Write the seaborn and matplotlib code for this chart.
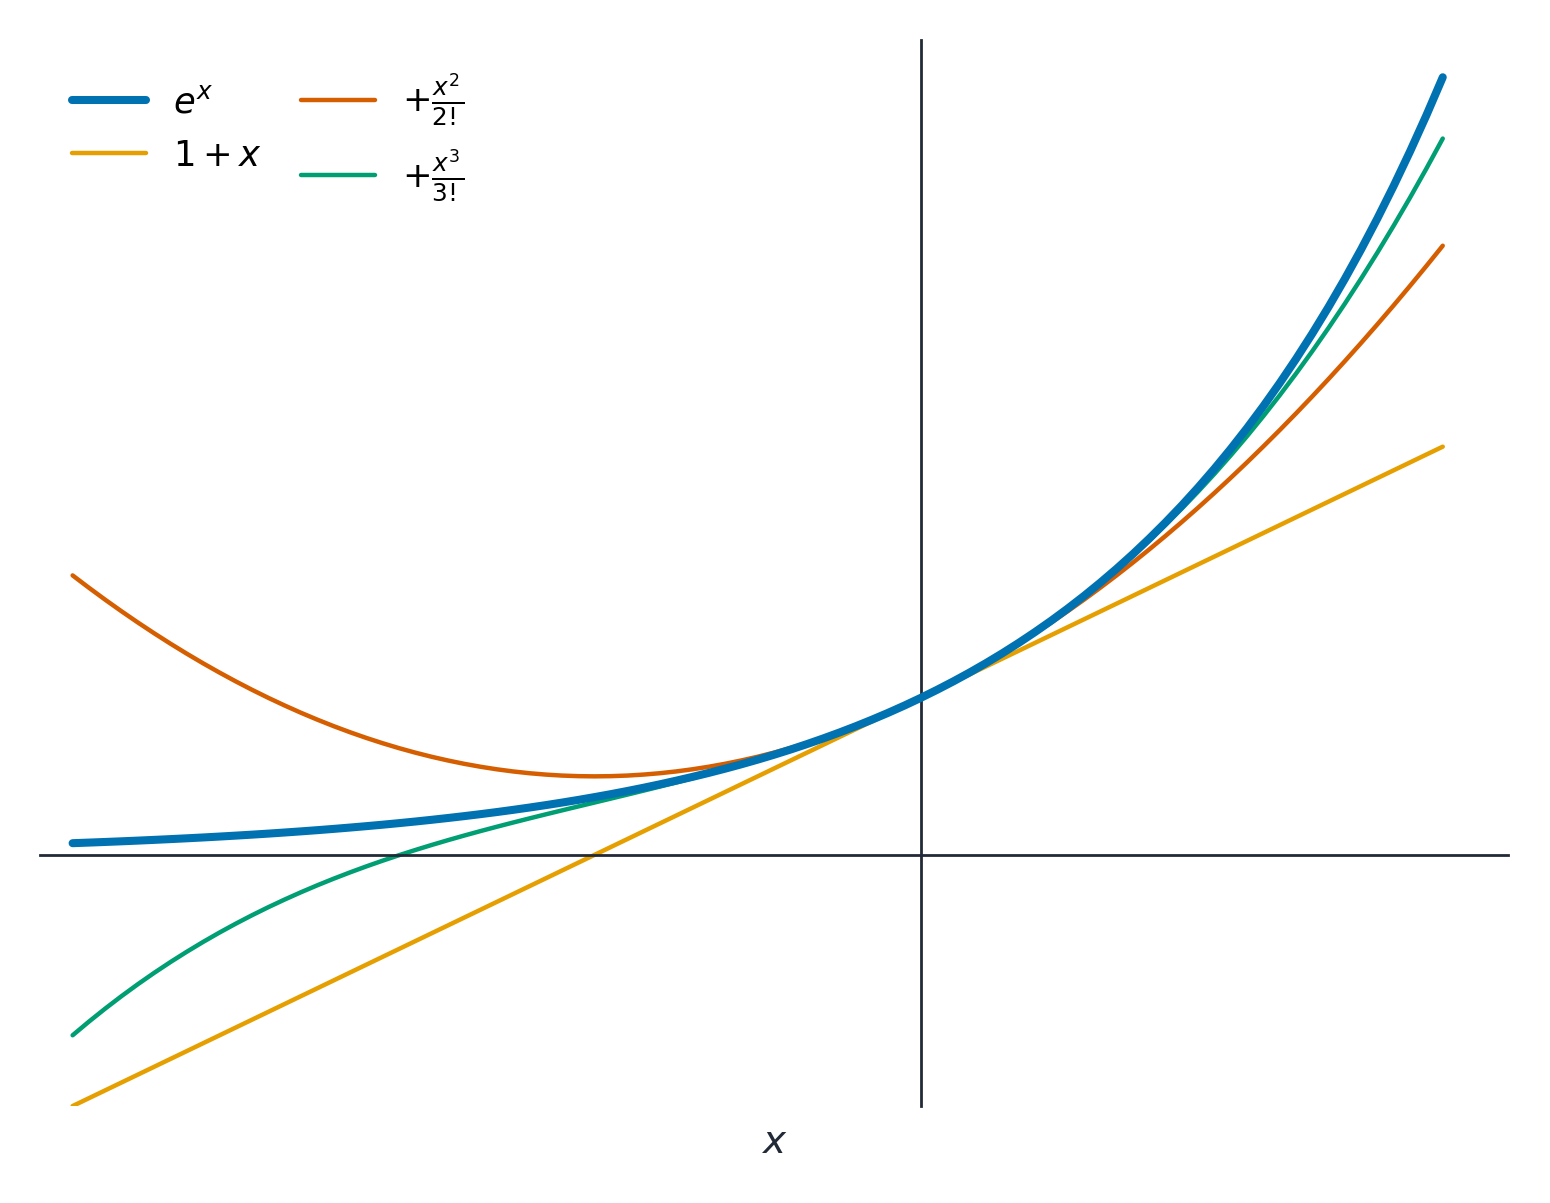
import seaborn as sns
import matplotlib.pyplot as plt

# x grid (step 0.05) and the curve values
x = [-2.6, -2.55, -2.5, -2.45, -2.4, -2.35, -2.3, -2.25, -2.2, -2.15,
     -2.1, -2.05, -2.0, -1.95, -1.9, -1.85, -1.8, -1.75, -1.7, -1.65,
     -1.6, -1.55, -1.5, -1.45, -1.4, -1.35, -1.3, -1.25, -1.2, -1.15,
     -1.1, -1.05, -1.0, -0.95, -0.9, -0.85, -0.8, -0.75, -0.7, -0.65,
     -0.6, -0.55, -0.5, -0.45, -0.4, -0.35, -0.3, -0.25, -0.2, -0.15,
     -0.1, -0.05, 0.0, 0.05, 0.1, 0.15, 0.2, 0.25, 0.3, 0.35,
     0.4, 0.45, 0.5, 0.55, 0.6, 0.65, 0.7, 0.75, 0.8, 0.85,
     0.9, 0.95, 1.0, 1.05, 1.1, 1.15, 1.2, 1.25, 1.3, 1.35,
     1.4, 1.45, 1.5, 1.55, 1.6]

exp_x = [0.0743, 0.0781, 0.0821, 0.0863, 0.0907, 0.0954, 0.1003, 0.1054,
         0.1108, 0.1165, 0.1225, 0.1287, 0.1353, 0.1423, 0.1496, 0.1572,
         0.1653, 0.1738, 0.1827, 0.1920, 0.2019, 0.2122, 0.2231, 0.2346,
         0.2466, 0.2592, 0.2725, 0.2865, 0.3012, 0.3166, 0.3329, 0.3499,
         0.3679, 0.3867, 0.4066, 0.4274, 0.4493, 0.4724, 0.4966, 0.5220,
         0.5488, 0.5769, 0.6065, 0.6376, 0.6703, 0.7047, 0.7408, 0.7788,
         0.8187, 0.8607, 0.9048, 0.9512, 1.0, 1.0513, 1.1052, 1.1618,
         1.2214, 1.2840, 1.3499, 1.4191, 1.4918, 1.5683, 1.6487, 1.7333,
         1.8221, 1.9155, 2.0138, 2.1170, 2.2255, 2.3396, 2.4596, 2.5857,
         2.7183, 2.8577, 3.0042, 3.1582, 3.3201, 3.4903, 3.6693, 3.8574,
         4.0552, 4.2631, 4.4817, 4.7115, 4.9530]

order1_x = [-2.6, 1.6]
order1 = [-1.6, 2.6]

order2 = [1.78, 1.7013, 1.625, 1.5513, 1.48, 1.4113, 1.345, 1.2813,
          1.22, 1.1613, 1.105, 1.0513, 1.0, 0.9513, 0.905, 0.8613,
          0.82, 0.7813, 0.745, 0.7113, 0.68, 0.6513, 0.625, 0.6013,
          0.58, 0.5613, 0.545, 0.5313, 0.52, 0.5113, 0.505, 0.5013,
          0.5, 0.5013, 0.505, 0.5113, 0.52, 0.5313, 0.545, 0.5613,
          0.58, 0.6013, 0.625, 0.6513, 0.68, 0.7113, 0.745, 0.7813,
          0.82, 0.8613, 0.905, 0.9513, 1.0, 1.0513, 1.105, 1.1613,
          1.22, 1.2813, 1.345, 1.4113, 1.48, 1.5513, 1.625, 1.7013,
          1.78, 1.8613, 1.945, 2.0313, 2.12, 2.2113, 2.305, 2.4013,
          2.5, 2.6013, 2.705, 2.8113, 2.92, 3.0313, 3.145, 3.2613,
          3.38, 3.5013, 3.625, 3.7513, 3.88]

order3 = [-1.1493, -1.0623, -0.9792, -0.8998, -0.824, -0.7517, -0.6828,
          -0.6172, -0.5547, -0.4952, -0.4385, -0.3846, -0.3333, -0.2846,
          -0.2382, -0.1940, -0.152, -0.1120, -0.0738, -0.0374, -0.0027,
          0.0306, 0.0625, 0.0932, 0.1227, 0.1512, 0.1788, 0.2057, 0.232,
          0.2578, 0.2832, 0.3083, 0.3333, 0.3584, 0.3835, 0.4089, 0.4347,
          0.4609, 0.4878, 0.5155, 0.544, 0.5735, 0.6042, 0.6361, 0.6693,
          0.7041, 0.7405, 0.7787, 0.8187, 0.8607, 0.9048, 0.9512, 1.0,
          1.0513, 1.1052, 1.1619, 1.2213, 1.2839, 1.3495, 1.4185, 1.4907,
          1.5665, 1.6458, 1.7290, 1.816, 1.9071, 2.0022, 2.1016, 2.2053,
          2.3137, 2.4265, 2.5442, 2.6667, 2.7942, 2.9268, 3.0648, 3.208,
          3.3568, 3.5112, 3.6714, 3.8373, 4.0094, 4.1875, 4.3720, 4.5627]

labels = [r'$e^x$', r'$1 + x$', r'$+\frac{x^2}{2!}$', r'$+\frac{x^3}{3!}$']
colors = ['#0072B2', '#E69F00', '#D55E00', '#009E73']

sns.set_theme(style='white')
ink = '#222a38'

fig = plt.figure(figsize=(15.5, 12.03), dpi=100)
ax = fig.add_axes([0.0258, 0.0806, 0.9471, 0.8861])

kw = dict(solid_capstyle='round', solid_joinstyle='round')
sns.lineplot(x=x, y=exp_x, ax=ax, color=colors[0], linewidth=5.8, label=labels[0], zorder=5, **kw)
sns.lineplot(x=order1_x, y=order1, ax=ax, color=colors[1], linewidth=3.2, label=labels[1], **kw)
sns.lineplot(x=x, y=order2, ax=ax, color=colors[2], linewidth=3.2, label=labels[2], **kw)
sns.lineplot(x=x, y=order3, ax=ax, color=colors[3], linewidth=3.2, label=labels[3], **kw)

ax.set_xlim(-2.7, 1.8)
ax.set_ylim(-1.6, 5.19)

# axes through the origin
ax.spines['left'].set_position('zero')
ax.spines['bottom'].set_position('zero')
ax.spines['right'].set_visible(False)
ax.spines['top'].set_visible(False)
for s in ['left', 'bottom']:
    ax.spines[s].set_color(ink)
    ax.spines[s].set_linewidth(2)
ax.set_xticks([])
ax.set_yticks([])

ax.set_xlabel(r'$x$', fontsize=28, color=ink)
ax.xaxis.set_label_coords(0.5, -0.016)

ax.legend(loc='upper left', ncol=2, frameon=False, fontsize=25.5,
          handlelength=2.1, handletextpad=0.75, columnspacing=1.1,
          labelspacing=0.55, labelcolor='black')

fig.savefig('out.png', dpi=100)
